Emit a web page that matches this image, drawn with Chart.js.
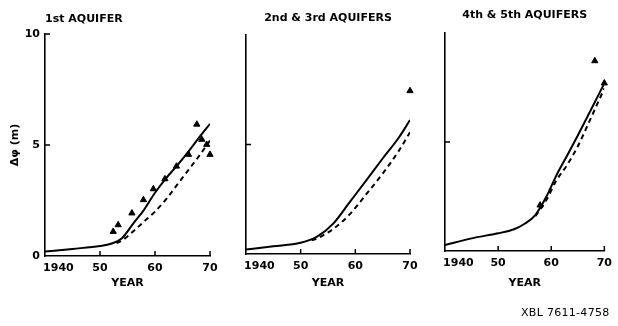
<!DOCTYPE html>
<html>
<head>
<meta charset="utf-8">
<script src="https://cdn.jsdelivr.net/npm/chart.js@4/dist/chart.umd.min.js"></script>
<style>
  html, body { margin: 0; padding: 0; background: #fff; width: 618px; height: 326px; overflow: hidden; }
  canvas { position: absolute; top: 0; }
  #code { position: absolute; left: 521px; top: 306px; font: 11px "DejaVu Sans", sans-serif; color: #000; letter-spacing: 0.3px; white-space: nowrap; }
</style>
</head>
<body>
<canvas id="c1" width="226" height="293" style="left:0px"></canvas>
<canvas id="c2" width="225" height="293" style="left:201px"></canvas>
<canvas id="c3" width="218" height="293" style="left:400px"></canvas>
<div id="code">XBL 7611-4758</div>
<script>
// Tick labels
const xTickLabels = ['1940', '50', '60', '70'];
const yTickLabels = ['0', '5', '10'];
const xMarkYears = [1950, 1960, 1970];

// 1st aquifer: calculated (solid), alternative calculation (dashed), observed (triangles)
const aq1SolidYears  = [1940, 1945, 1950, 1952, 1954, 1956, 1958, 1960, 1962, 1964, 1966, 1968, 1970];
const aq1SolidValues = [0.2, 0.32, 0.45, 0.55, 0.8, 1.45, 2.08, 2.85, 3.5, 4.07, 4.68, 5.33, 5.95];
const aq1DashYears   = [1953, 1954, 1956, 1958, 1960, 1962, 1964, 1966, 1968, 1970];
const aq1DashValues  = [0.58, 0.7, 1.1, 1.55, 2.0, 2.55, 3.2, 3.85, 4.5, 5.2];
const aq1ObsYears    = [1952.4, 1953.3, 1955.8, 1957.9, 1959.7, 1961.8, 1963.9, 1966.1, 1967.6, 1968.5, 1969.4, 1970];
const aq1ObsValues   = [1.1, 1.4, 1.93, 2.53, 3.02, 3.47, 4.04, 4.57, 5.93, 5.25, 5.02, 4.57];

// 2nd & 3rd aquifers
const aq23SolidYears  = [1940, 1945, 1950, 1953, 1956, 1959, 1962, 1965, 1968, 1970];
const aq23SolidValues = [0.21, 0.35, 0.51, 0.79, 1.4, 2.38, 3.36, 4.36, 5.33, 6.12];
const aq23DashYears   = [1952, 1953, 1956, 1959, 1962, 1965, 1968, 1970];
const aq23DashValues  = [0.62, 0.71, 1.15, 1.82, 2.73, 3.67, 4.73, 5.56];
const aq23ObsYears    = [1970];
const aq23ObsValues   = [7.45];

// 4th & 5th aquifers
const aq45SolidYears  = [1940, 1945, 1950, 1953, 1955, 1957, 1959, 1961, 1963, 1965, 1967, 1970];
const aq45SolidValues = [0.27, 0.58, 0.81, 1.0, 1.25, 1.65, 2.45, 3.48, 4.38, 5.3, 6.25, 7.69];
const aq45DashYears   = [1957, 1959, 1961, 1963, 1965, 1967, 1970];
const aq45DashValues  = [1.6, 2.3, 3.25, 3.95, 4.8, 5.85, 7.46];
const aq45ObsYears    = [1957.9, 1968.2, 1970];
const aq45ObsValues   = [2.1, 8.72, 7.7];

const FONT = 'DejaVu Sans';
Chart.defaults.font.family = FONT;
Chart.defaults.color = '#000';

const pts = (xs, ys) => xs.map((x, i) => ({ x, y: ys[i] }));
// figure spaces shift the first year label so it starts at the axis corner
const firstLabelPad = '\u2007\u2007\u2007 ';

// Short tick marks drawn inward from the axes
const innerTicks = {
  id: 'innerTicks',
  afterDraw(chart, args, opts) {
    const { ctx, chartArea, scales: { x, y } } = chart;
    ctx.save();
    ctx.strokeStyle = '#000';
    ctx.lineWidth = 1.5;
    ctx.beginPath();
    opts.xValues.forEach(v => {
      const px = x.getPixelForValue(v);
      ctx.moveTo(px, chartArea.bottom);
      ctx.lineTo(px, chartArea.bottom - 5);
    });
    opts.yValues.forEach(v => {
      const py = y.getPixelForValue(v);
      ctx.moveTo(chartArea.left, py);
      ctx.lineTo(chartArea.left + 5, py);
    });
    ctx.stroke();
    ctx.restore();
  }
};

function makePanel(id, cfg) {
  const areaBottom = cfg.areaBottom;
  const xh = 293 - areaBottom;
  new Chart(document.getElementById(id), {
    type: 'line',
    data: {
      datasets: [
        {
          data: pts(cfg.solidYears, cfg.solidValues),
          borderColor: '#000', borderWidth: 2, pointRadius: 0,
          cubicInterpolationMode: 'monotone', fill: false
        },
        {
          data: pts(cfg.dashYears, cfg.dashValues),
          borderColor: '#000', borderWidth: 2, borderDash: [5, 4], pointRadius: 0,
          cubicInterpolationMode: 'monotone', fill: false
        },
        {
          data: pts(cfg.obsYears, cfg.obsValues),
          showLine: false, pointStyle: 'triangle', pointRadius: 3.6,
          pointBackgroundColor: '#000', pointBorderColor: '#000', pointBorderWidth: 1,
          clip: false
        }
      ]
    },
    options: {
      responsive: false,
      animation: false,
      devicePixelRatio: 1,
      events: [],
      layout: { padding: { left: 0, right: cfg.padRight, top: 0, bottom: 0 } },
      plugins: {
        legend: { display: false },
        tooltip: { enabled: false },
        title: {
          display: true,
          text: cfg.title,
          align: cfg.titleAlign,
          fullSize: false,
          color: '#000',
          font: { family: FONT, size: 11, weight: 'bold' },
          padding: cfg.titlePadding
        },
        innerTicks: { xValues: xMarkYears, yValues: cfg.yMarks }
      },
      scales: {
        x: {
          type: 'linear', min: 1940, max: 1970,
          grid: { display: false, drawTicks: false },
          border: { display: true, color: '#000', width: 1.6 },
          ticks: {
            stepSize: 10, autoSkip: false, maxRotation: 0, minRotation: 0, padding: 6,
            color: '#000', font: { family: FONT, size: 11, weight: 'bold' },
            callback: (v) => {
              const i = Math.round((v - 1940) / 10);
              return i === 0 ? firstLabelPad + xTickLabels[0] : xTickLabels[i];
            }
          },
          title: {
            display: true, text: 'YEAR', color: '#000',
            font: { family: FONT, size: 11, weight: 'bold' },
            padding: { top: 0, bottom: 3.4 }
          },
          afterFit: (s) => { s.height = xh; }
        },
        y: {
          type: 'linear', min: 0, max: 10,
          grid: { display: false, drawTicks: false },
          border: { display: true, color: '#000', width: 1.6 },
          ticks: {
            display: cfg.showYLabels, stepSize: 5, padding: 5,
            color: '#000', font: { family: FONT, size: 11, weight: 'bold' },
            callback: (v) => yTickLabels[Math.round(v / 5)]
          },
          title: {
            display: cfg.showYLabels, text: 'Δφ (m)', color: '#000',
            font: { family: FONT, size: 11, weight: 'bold' },
            padding: { top: 9, bottom: 0 }
          },
          afterFit: (s) => { s.width = 45; }
        }
      }
    },
    plugins: [innerTicks]
  });
}

makePanel('c1', {
  title: '1st AQUIFER', titleAlign: 'start', titlePadding: { top: 12.4, bottom: 8.4 },
  areaBottom: 256, padRight: 16, showYLabels: true, yMarks: [5, 10],
  solidYears: aq1SolidYears, solidValues: aq1SolidValues,
  dashYears: aq1DashYears, dashValues: aq1DashValues,
  obsYears: aq1ObsYears, obsValues: aq1ObsValues
});

makePanel('c2', {
  title: '2nd & 3rd AQUIFERS', titleAlign: 'center', titlePadding: { top: 11.7, bottom: 10.1 },
  areaBottom: 254, padRight: 16, showYLabels: false, yMarks: [5],
  solidYears: aq23SolidYears, solidValues: aq23SolidValues,
  dashYears: aq23DashYears, dashValues: aq23DashValues,
  obsYears: aq23ObsYears, obsValues: aq23ObsValues
});

makePanel('c3', {
  title: '4th & 5th AQUIFERS', titleAlign: 'center', titlePadding: { top: 8.5, bottom: 11.3 },
  areaBottom: 251, padRight: 8, showYLabels: false, yMarks: [5],
  solidYears: aq45SolidYears, solidValues: aq45SolidValues,
  dashYears: aq45DashYears, dashValues: aq45DashValues,
  obsYears: aq45ObsYears, obsValues: aq45ObsValues
});
</script>
</body>
</html>
